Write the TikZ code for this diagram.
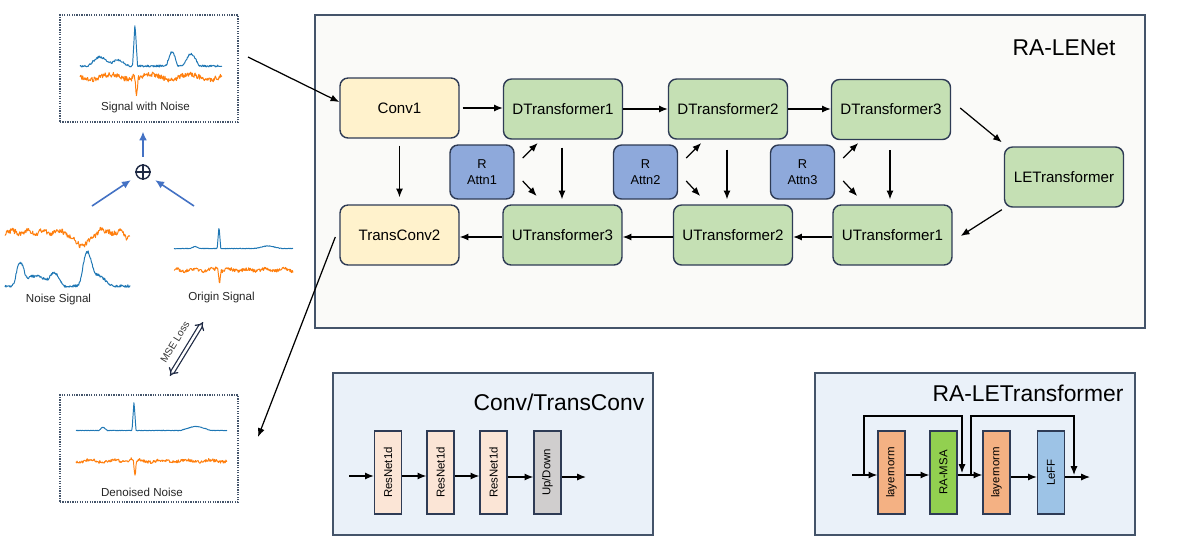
\documentclass[tikz,border=0pt]{standalone}
\usepackage{fontspec}
\usepackage{graphicx}
\setmainfont{Liberation Sans}
\usetikzlibrary{arrows.meta,calc}
\definecolor{frame}{HTML}{44546A}
\definecolor{nedge}{HTML}{2E3B55}
\definecolor{mainbg}{HTML}{FAFAF8}
\definecolor{subbg}{HTML}{EAF1F9}
\definecolor{yfill}{HTML}{FFF2CC}
\definecolor{gfill}{HTML}{C5E0B4}
\definecolor{afill}{HTML}{8EA9DB}
\definecolor{peach}{HTML}{FBE5D6}
\definecolor{udfill}{HTML}{D0CECE}
\definecolor{lnfill}{HTML}{F4B183}
\definecolor{msafill}{HTML}{92D050}
\definecolor{lefffill}{HTML}{9DC3E6}
\definecolor{arrowblue}{HTML}{4472C4}
\definecolor{ecgblue}{HTML}{1F77B4}
\definecolor{ecgorange}{HTML}{FF7F0E}
\definecolor{navy}{HTML}{1F2A44}
\begin{document}
\begin{tikzpicture}[x=0.02cm, y=-0.02cm,
  declare function={tri(\t,\m,\w)=max(0,1-abs(\t-\m)/\w);
                    bump(\t,\m,\w)=0.5*(1+cos(180*min(1,abs(\t-\m)/\w)));},
  arr/.style={-{Latex[length=5pt,width=4pt]}, line width=0.7pt, black},
  barr/.style={-{Latex[length=5pt,width=4.5pt]}, line width=0.9pt, arrowblue},
  mnode/.style={draw=nedge, line width=0.8pt, rounded corners=0.16cm, minimum width=2.38cm, minimum height=1.2cm, inner sep=1pt, font=\fontsize{8.6}{10}\selectfont},
  convnode/.style={mnode, fill=yfill},
  gnode/.style={mnode, fill=gfill},
  attn/.style={draw=nedge, line width=0.8pt, rounded corners=0.16cm, fill=afill, minimum width=1.28cm, minimum height=1.08cm, inner sep=1pt, align=center, font=\fontsize{7.3}{9.5}\selectfont},
  blk/.style={draw=nedge, line width=0.8pt, minimum width=0.54cm, minimum height=1.66cm, inner sep=0pt, font=\fontsize{6.5}{7}\selectfont},
  imgbox/.style={draw=frame, line width=0.7pt, dash pattern=on 0.7pt off 0.7pt, minimum width=3.56cm, minimum height=2.14cm, inner sep=0pt},
  lbl/.style={font=\fontsize{6.6}{8}\selectfont, text=black!85},
  title/.style={font=\fontsize{13}{15}\selectfont},
  wave/.style={line width=0.55pt, line join=round}
]
\useasboundingbox (0,0) rectangle (1180,549);
\pgfmathsetseed{7}

% ---------- main RA-LENet box ----------
\path[draw=frame, fill=mainbg, line width=0.9pt] (315,15) rectangle (1145,328);
\node[title] (tmain) at (1064,48) {RA-LENet};

\node[convnode] (conv1) at (399.5,108) {Conv1};
\node[gnode] (dt1) at (563,109) {DTransformer1};
\node[gnode] (dt2) at (728,109) {DTransformer2};
\node[gnode] (dt3) at (891,109.5) {DTransformer3};
\node[gnode] (lenode) at (1064,177) {LETransformer};
\node[convnode] (tc2) at (399.5,235) {TransConv2};
\node[gnode] (ut3) at (562.5,235) {UTransformer3};
\node[gnode] (ut2) at (733,235) {UTransformer2};
\node[gnode] (ut1) at (892.5,235) {UTransformer1};
\node[attn] (a1) at (482,172) {R\\Attn1};
\node[attn] (a2) at (645.5,172) {R\\Attn2};
\node[attn] (a3) at (802.5,172) {R\\Attn3};

\draw[arr, shorten <=0.06cm] (conv1.east) -- (conv1.east -| dt1.west);
\draw[arr] (dt1.east) -- (dt1.east -| dt2.west);
\draw[arr] (dt2.east) -- (dt2.east -| dt3.west);
\draw[arr] ([xshift=0.18cm,yshift=0.03cm]dt3.east) -- ([xshift=-0.04cm,yshift=0.08cm]lenode.north west);
\draw[arr] ([xshift=-0.04cm,yshift=-0.04cm]lenode.south west) -- ([xshift=0.16cm,yshift=-0.02cm]ut1.east);
\draw[arr] ([yshift=-0.04cm]ut1.west) -- ([yshift=-0.04cm]ut1.west -| ut2.east);
\draw[arr] ([yshift=-0.04cm]ut2.west) -- ([yshift=-0.04cm]ut2.west -| ut3.east);
\draw[arr] ([yshift=-0.04cm]ut3.west) -- ([yshift=-0.04cm]ut3.west -| tc2.east);
\draw[arr, shorten <=0.14cm, shorten >=0.14cm] (conv1.south) -- (conv1.south |- tc2.north);
\draw[arr, shorten <=0.16cm, shorten >=0.1cm] ([xshift=-0.02cm]dt1.south) -- ([xshift=-0.02cm]dt1.south |- ut3.north);
\draw[arr, shorten <=0.2cm, shorten >=0.1cm] ([xshift=-0.02cm]dt2.south) -- ([xshift=-0.02cm]dt2.south |- ut2.north);
\draw[arr, shorten <=0.2cm, shorten >=0.1cm] ([xshift=-0.02cm]dt3.south) -- ([xshift=-0.02cm]dt3.south |- ut1.north);
\foreach \a in {a1,a2,a3}{
  \draw[arr] ([shift={(8,-14)}]\a.east) -- ++(15,-15);
  \draw[arr] ([shift={(8,9)}]\a.east) -- ++(14,15);
}

% ---------- Conv/TransConv box ----------
\path[draw=frame, fill=subbg, line width=0.9pt] (333,373) rectangle (653,535);
\node[title] (tconv) at (559,402) {Conv/TransConv};
\node[blk, fill=peach] (rn1) at (388,472.5) {\rotatebox{90}{ResNet1d}};
\node[blk, fill=peach] (rn2) at (440.5,472.5) {\rotatebox{90}{ResNet1d}};
\node[blk, fill=peach] (rn3) at (493.5,472.5) {\rotatebox{90}{ResNet1d}};
\node[blk, fill=udfill] (ud) at (547.5,472.5) {\rotatebox{90}{Up/Down}};
\coordinate (cin) at (349,476);
\coordinate (cout) at (586,477);
\draw[arr] (cin) -- (cin -| rn1.west);
\draw[arr] (cin -| rn1.east) -- (cin -| rn2.west);
\draw[arr] (cin -| rn2.east) -- (cin -| rn3.west);
\draw[arr] (cout -| rn3.east) -- (cout -| ud.west);
\draw[arr] (cout -| ud.east) -- (cout);

% ---------- RA-LETransformer box ----------
\path[draw=frame, fill=subbg, line width=0.9pt] (815,373) rectangle (1135,535);
\node[title] (tlet) at (1028,393) {RA-LETransformer};
\node[blk, fill=lnfill] (ln1) at (891.5,472.5) {\rotatebox{90}{layernorm}};
\node[blk, fill=msafill] (msa) at (943.5,472.5) {\rotatebox{90}{RA-MSA}};
\node[blk, fill=lnfill] (ln2) at (996.5,472.5) {\rotatebox{90}{layernorm}};
\node[blk, fill=lefffill] (leff) at (1051,472.5) {\rotatebox{90}{LeFF}};
\coordinate (lin) at (852,475);
\coordinate (s1a) at (864,475);
\coordinate (s1b) at (962,475);
\coordinate (s2a) at (971,475);
\coordinate (s2b) at (1074,477);
\coordinate (lout) at (1090,477);
\draw[arr] (lin) -- (lin -| ln1.west);
\draw[arr] (lin -| ln1.east) -- (lin -| msa.west);
\draw[arr] (lin -| msa.east) -- (lin -| ln2.west);
\draw[arr] (lout -| ln2.east) -- (lout -| leff.west);
\draw[arr] (lout -| leff.east) -- (lout);
\draw[arr] (s1a) -- ++(0,-59) -| ([yshift=0.04cm]s1b);
\draw[arr] (s2a) -- ++(0,-59) -| ([yshift=0.04cm]s2b);

% ---------- left side: signals ----------
\node[imgbox] (sigbox) at (149,68.5) {};
\node[lbl] (siglbl) at (145.5,107) {Signal with Noise};
\draw[wave, ecgblue] plot[domain=80:222, samples=260] (\x, {66 - 9*bump(\x,100,14) - 6*bump(\x,118,12) - 43*tri(\x,135,2.5) - 14*bump(\x,172,7) - 12*bump(\x,191,10) + 1.0*rand});
\draw[wave, ecgorange] plot[domain=80:222, samples=260] (\x, {77 + 2.6*rand + 2.5*sin(\x*9) + 15*tri(\x,136.5,2) - 6*tri(\x,133.5,2)});

\node[draw=navy, line width=0.8pt, circle, minimum size=0.28cm, inner sep=0pt] (plus) at (143,172) {};
\draw[navy, line width=0.8pt] (plus.north) -- (plus.south) (plus.west) -- (plus.east);
\draw[barr, shorten <=0.15cm, shorten >=0.18cm] (plus.north) -- (plus.north |- sigbox.south);
\coordinate (nsrc) at (92,206);
\coordinate (osrc) at (194,206);
\draw[barr, shorten >=0.14cm] (nsrc) -- (plus);
\draw[barr, shorten >=0.14cm] (osrc) -- (plus);

% noise signal
\draw[wave, ecgorange] plot[domain=5:130, samples=240] (\x, {232 + 2.6*rand + 1.5*sin(\x*23) + 13*bump(\x,82,20) - 3*bump(\x,100,5) + 5*bump(\x,127,6)});
\draw[wave, ecgblue] plot[domain=5:130, samples=240] (\x, {286 - 20*bump(\x,20,8) - 10*bump(\x,35,25) - 12*bump(\x,55,10) - 26*bump(\x,87,9) - 12*bump(\x,95,20) + 1.3*rand});
\node[lbl] (nlbl) at (58.5,299) {Noise Signal};

% origin signal
\draw[wave, ecgblue] plot[domain=174:293, samples=240] (\x, {248.5 - 22*tri(\x,219,1.8) - 2*bump(\x,195,5) - 2.5*bump(\x,268,15) + 0.3*rand});
\draw[wave, ecgorange] plot[domain=174:293, samples=240] (\x, {270 + 1.7*rand + 1.2*sin(\x*20) + 14*tri(\x,219.5,1.6) - 4*tri(\x,216.5,1.5)});
\node[lbl] (olbl) at (221.5,297) {Origin Signal};

% MSE loss
\coordinate (m1) at (170,376);
\coordinate (m2) at (203,322);
\draw[navy, line width=0.7pt, double=white, double distance=1.4pt, {Implies}-{Implies}] (m1) -- node[sloped, above=2pt, font=\fontsize{5.8}{7}\selectfont, text=black!80] {MSE Loss} (m2);

% denoised
\node[imgbox] (denbox) at (149,448.5) {};
\draw[wave, ecgblue] plot[domain=76:227, samples=280] (\x, {430.5 - 29*tri(\x,134,2) - 3*bump(\x,103,5) - 4*bump(\x,196,18) + 0.3*rand});
\draw[wave, ecgorange] plot[domain=76:227, samples=280] (\x, {461 + 1.5*rand + 1*sin(\x*15) + 16*tri(\x,135,1.7) - 3*tri(\x,131,1.5)});
\node[lbl] (dlbl) at (142,492) {Denoised Noise};

% connections to main network
\coordinate (sa) at (248,57);
\draw[arr] (sa) -- ([yshift=0.12cm]conv1.west);
\coordinate (da) at (258,437);
\draw[arr] ([xshift=-0.08cm,yshift=-0.04cm]tc2.west) -- (da);
\end{tikzpicture}
\end{document}
